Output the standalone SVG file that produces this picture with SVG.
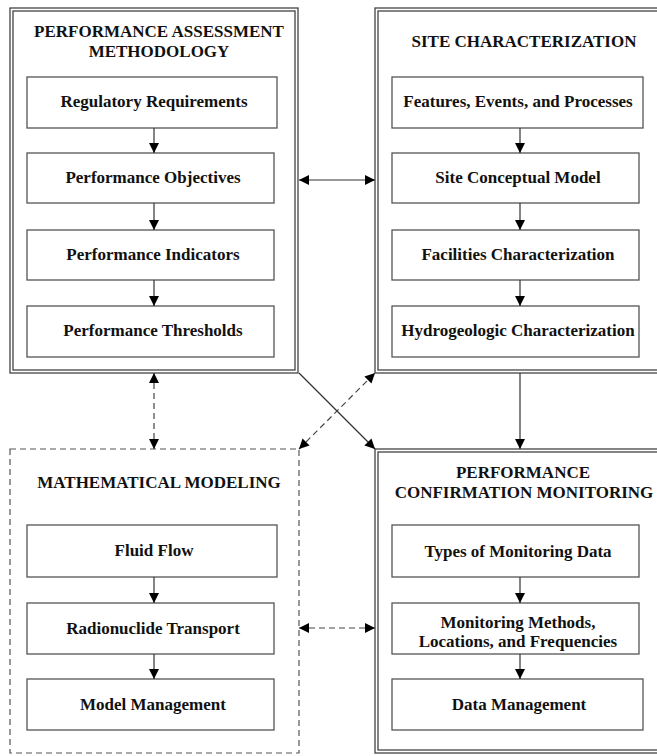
<svg xmlns="http://www.w3.org/2000/svg" width="657" height="756" viewBox="0 0 657 756">
<style>
.bg{fill:#fff}
.outer{fill:none;stroke:#444;stroke-width:1.3}
.dash{fill:none;stroke:#555;stroke-width:1.2;stroke-dasharray:6 4}
.box{fill:#fff;stroke:#555;stroke-width:1.3}
.t{font-family:"Liberation Serif","Times New Roman",serif;font-weight:bold;font-size:17px;fill:#111;text-anchor:middle}
.h{font-family:"Liberation Serif","Times New Roman",serif;font-weight:bold;font-size:17px;fill:#111;text-anchor:middle}
.c{fill:none;stroke:#333;stroke-width:1.2}
.cd{fill:none;stroke:#444;stroke-width:1.2;stroke-dasharray:6 4}
</style>
<defs>
<marker id="ah" markerUnits="userSpaceOnUse" markerWidth="12" markerHeight="10" refX="10" refY="5" orient="auto-start-reverse" viewBox="0 0 12 10">
<path d="M0,0 L10,5 L0,10 Z" fill="#000"/>
</marker>
</defs>
<rect class="bg" x="0" y="0" width="657" height="756"/>

<g id="pam">
<rect class="outer" x="10" y="8" width="288" height="365"/>
<rect class="outer" x="13" y="11" width="282" height="359"/>
<text class="h" x="159" y="37">PERFORMANCE ASSESSMENT</text>
<text class="h" x="159" y="57">METHODOLOGY</text>
</g>
<g id="reg"><rect class="box" x="27" y="77" width="250" height="51"/><text class="t" x="154" y="107">Regulatory Requirements</text></g>
<g id="pobj"><rect class="box" x="27" y="153" width="247" height="50"/><text class="t" x="153" y="183">Performance Objectives</text></g>
<g id="pind"><rect class="box" x="27" y="230" width="247" height="50"/><text class="t" x="153" y="260">Performance Indicators</text></g>
<g id="pthr"><rect class="box" x="27" y="306" width="247" height="51"/><text class="t" x="153" y="336">Performance Thresholds</text></g>

<g id="sc">
<rect class="outer" x="375" y="8" width="295" height="365"/>
<rect class="outer" x="378" y="11" width="295" height="359"/>
<text class="h" x="524" y="47">SITE CHARACTERIZATION</text>
</g>
<g id="fep"><rect class="box" x="392" y="77" width="251" height="51"/><text class="t" x="518" y="107">Features, Events, and Processes</text></g>
<g id="scm"><rect class="box" x="392" y="153" width="247" height="50"/><text class="t" x="518" y="183">Site Conceptual Model</text></g>
<g id="fc"><rect class="box" x="392" y="230" width="247" height="50"/><text class="t" x="518" y="260">Facilities Characterization</text></g>
<g id="hc"><rect class="box" x="392" y="306" width="247" height="51"/><text class="t" x="518" y="336">Hydrogeologic Characterization</text></g>

<g id="mm">
<rect class="dash" x="10" y="449" width="289" height="304"/>
<text class="h" x="159" y="488">MATHEMATICAL MODELING</text>
</g>
<g id="ff"><rect class="box" x="27" y="525" width="250" height="52"/><text class="t" x="154" y="556">Fluid Flow</text></g>
<g id="rt"><rect class="box" x="27" y="603" width="247" height="51"/><text class="t" x="153" y="634">Radionuclide Transport</text></g>
<g id="mmg"><rect class="box" x="27" y="679" width="247" height="51"/><text class="t" x="153" y="710">Model Management</text></g>

<g id="pcm">
<rect class="outer" x="375" y="449" width="295" height="304"/>
<rect class="outer" x="378" y="452" width="295" height="298"/>
<text class="h" x="523" y="478">PERFORMANCE</text>
<text class="h" x="524" y="498">CONFIRMATION MONITORING</text>
</g>
<g id="tmd"><rect class="box" x="392" y="525" width="247" height="52"/><text class="t" x="518" y="557">Types of Monitoring Data</text></g>
<g id="mml"><rect class="box" x="392" y="603" width="247" height="51"/><text class="t" x="518" y="628">Monitoring Methods,</text><text class="t" x="518" y="647">Locations, and Frequencies</text></g>
<g id="dm"><rect class="box" x="392" y="679" width="251" height="51"/><text class="t" x="519" y="710">Data Management</text></g>

<g id="connectors">
<line class="c" x1="154" y1="128" x2="154" y2="153" marker-end="url(#ah)"/>
<line class="c" x1="154" y1="203" x2="154" y2="230" marker-end="url(#ah)"/>
<line class="c" x1="154" y1="280" x2="154" y2="306" marker-end="url(#ah)"/>
<line class="c" x1="520" y1="128" x2="520" y2="153" marker-end="url(#ah)"/>
<line class="c" x1="520" y1="203" x2="520" y2="230" marker-end="url(#ah)"/>
<line class="c" x1="520" y1="280" x2="520" y2="306" marker-end="url(#ah)"/>
<line class="c" x1="154" y1="577" x2="154" y2="603" marker-end="url(#ah)"/>
<line class="c" x1="154" y1="654" x2="154" y2="679" marker-end="url(#ah)"/>
<line class="c" x1="520" y1="577" x2="520" y2="603" marker-end="url(#ah)"/>
<line class="c" x1="520" y1="654" x2="520" y2="679" marker-end="url(#ah)"/>
<line class="c" x1="299" y1="180" x2="375" y2="180" marker-start="url(#ah)" marker-end="url(#ah)"/>
<line class="c" x1="520" y1="373" x2="520" y2="449" marker-end="url(#ah)"/>
<line class="cd" x1="154" y1="373" x2="154" y2="449" marker-start="url(#ah)" marker-end="url(#ah)"/>
<line class="c" x1="299" y1="373" x2="375" y2="449" marker-end="url(#ah)"/>
<line class="cd" x1="299" y1="449" x2="375" y2="373" marker-start="url(#ah)" marker-end="url(#ah)"/>
<line class="cd" x1="299" y1="628" x2="375" y2="628" marker-start="url(#ah)" marker-end="url(#ah)"/>
</g>
</svg>
